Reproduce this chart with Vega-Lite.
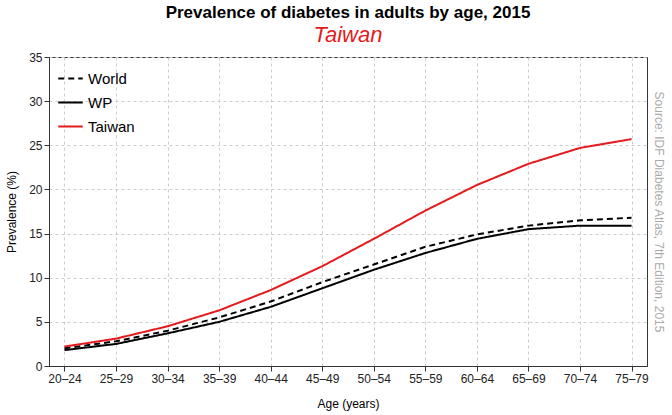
{
  "$schema": "https://vega.github.io/schema/vega-lite/v6.json",
  "width": 672,
  "height": 415,
  "autosize": {"type": "fit", "contains": "padding"},
  "padding": {"left": 5, "right": 8, "top": 4, "bottom": 6},
  "title": {
    "text": "Prevalence of diabetes in adults by age, 2015",
    "subtitle": "Taiwan",
    "fontSize": 17,
    "fontWeight": "bold",
    "font": "Liberation Sans",
    "subtitleFont": "Liberation Sans",
    "subtitleFontSize": 22,
    "subtitleFontStyle": "italic",
    "subtitleColor": "#e41a1c",
    "subtitlePadding": 3,
    "offset": 4
  },
  "data": {
    "values": [
      {"age": "20–24", "series": "World", "v": 2.0},
      {"age": "25–29", "series": "World", "v": 2.8},
      {"age": "30–34", "series": "World", "v": 4.0},
      {"age": "35–39", "series": "World", "v": 5.5},
      {"age": "40–44", "series": "World", "v": 7.3},
      {"age": "45–49", "series": "World", "v": 9.5},
      {"age": "50–54", "series": "World", "v": 11.5},
      {"age": "55–59", "series": "World", "v": 13.5},
      {"age": "60–64", "series": "World", "v": 14.9},
      {"age": "65–69", "series": "World", "v": 15.9},
      {"age": "70–74", "series": "World", "v": 16.5},
      {"age": "75–79", "series": "World", "v": 16.8},
      {"age": "20–24", "series": "WP", "v": 1.8},
      {"age": "25–29", "series": "WP", "v": 2.5},
      {"age": "30–34", "series": "WP", "v": 3.7},
      {"age": "35–39", "series": "WP", "v": 5.0},
      {"age": "40–44", "series": "WP", "v": 6.7},
      {"age": "45–49", "series": "WP", "v": 8.8},
      {"age": "50–54", "series": "WP", "v": 10.9},
      {"age": "55–59", "series": "WP", "v": 12.8},
      {"age": "60–64", "series": "WP", "v": 14.4},
      {"age": "65–69", "series": "WP", "v": 15.5},
      {"age": "70–74", "series": "WP", "v": 15.9},
      {"age": "75–79", "series": "WP", "v": 15.9},
      {"age": "20–24", "series": "Taiwan", "v": 2.2},
      {"age": "25–29", "series": "Taiwan", "v": 3.1},
      {"age": "30–34", "series": "Taiwan", "v": 4.5},
      {"age": "35–39", "series": "Taiwan", "v": 6.3},
      {"age": "40–44", "series": "Taiwan", "v": 8.6},
      {"age": "45–49", "series": "Taiwan", "v": 11.3},
      {"age": "50–54", "series": "Taiwan", "v": 14.4},
      {"age": "55–59", "series": "Taiwan", "v": 17.6},
      {"age": "60–64", "series": "Taiwan", "v": 20.5},
      {"age": "65–69", "series": "Taiwan", "v": 22.9},
      {"age": "70–74", "series": "Taiwan", "v": 24.7},
      {"age": "75–79", "series": "Taiwan", "v": 25.7}
    ]
  },
  "layer": [
    {
      "mark": {"type": "line", "strokeWidth": 2},
      "encoding": {
        "x": {
          "field": "age", "type": "ordinal", "sort": null,
          "scale": {"type": "point", "padding": 0.3},
          "title": "Age (years)",
          "axis": {"labelAngle": 0, "grid": true, "gridDash": [3, 3], "gridColor": "#cccccc", "titlePadding": 14}
        },
        "y": {
          "field": "v", "type": "quantitative",
          "scale": {"domain": [0, 35], "nice": false},
          "title": "Prevalence (%)",
          "axis": {"values": [0, 5, 10, 15, 20, 25, 30, 35], "gridDash": [3, 3], "gridColor": "#cccccc", "titlePadding": 10}
        },
        "color": {
          "field": "series", "type": "nominal",
          "scale": {"domain": ["World", "WP", "Taiwan"], "range": ["black", "black", "#e41a1c"]},
          "title": null
        },
        "strokeDash": {
          "field": "series", "type": "nominal",
          "scale": {"domain": ["World", "WP", "Taiwan"], "range": [[6, 4], [1, 0], [1, 0]]},
          "title": null
        }
      }
    },
    {
      "mark": {"type": "line", "opacity": 0},
      "encoding": {
        "x": {"field": "age", "type": "ordinal", "sort": null},
        "y": {
          "field": "v", "type": "quantitative",
          "scale": {"domain": [0, 35], "nice": false},
          "axis": {"orient": "right", "labels": false, "ticks": false, "grid": false, "domain": false,
                   "title": "Source: IDF Diabetes Atlas, 7th Edition, 2015",
                   "titleColor": "#aaaaaa", "titleFontSize": 12, "titleFontWeight": "normal", "titlePadding": 4}
        }
      }
    }
  ],
  "resolve": {"axis": {"y": "independent"}},
  "config": {
    "font": "Liberation Sans",
    "view": {"stroke": "#333333"},
    "axis": {"labelFontSize": 12, "titleFontSize": 12, "titleFontWeight": "normal", "domainColor": "#333333", "tickColor": "#333333", "labelColor": "#222222"},
    "legend": {"orient": "top-left", "labelFontSize": 15, "symbolType": "stroke", "symbolSize": 600, "symbolStrokeWidth": 2, "rowPadding": 2, "offset": 8}
  }
}
